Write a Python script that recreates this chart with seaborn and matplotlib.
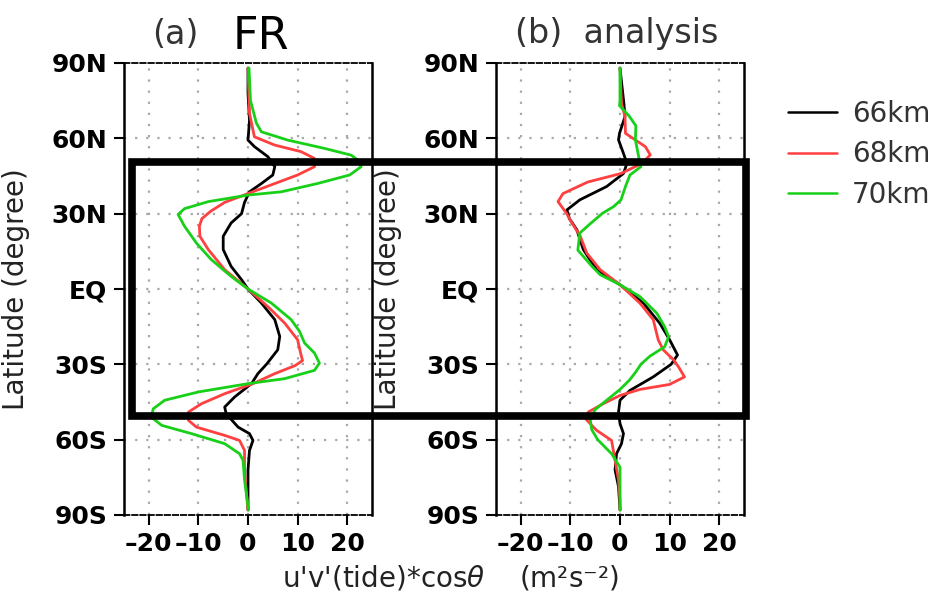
import numpy as np
import pandas as pd
import matplotlib
matplotlib.use("Agg")
import matplotlib.pyplot as plt
from matplotlib.lines import Line2D
from matplotlib.patches import Rectangle
import seaborn as sns

sns.set_theme(style="white")
plt.rcParams['font.family'] = ['DejaVu Sans']

# ---------------- data ----------------
levels = ["66km", "68km", "70km"]
line_colors = ["#000000", "#ff4040", "#18d018"]

x_ticks = [-20, -10, 0, 10, 20]
x_tick_labels = ["\u201320", "\u201310", "0", "10", "20"]
lat_ticks = [-90, -60, -30, 0, 30, 60, 90]
lat_labels = ["90S", "60S", "30S", "EQ", "30N", "60N", "90N"]

# (a) FR
a66_lat = [88, 78, 67, 59.3, 56.7, 52.7, 48.7, 45.4, 42, 38.7, 34.5, 30, 26.3, 21, 15.7, 9, 3.7, 0,
           -5.6, -12.2, -18.9, -24.2, -29.8, -33.7, -37.7, -43, -47, -49.7, -55, -57.6, -60.3, -64.3, -72, -88]
a66_val = [0, 0, 0.3, 0, 1.3, 4, 5.4, 5, 2.7, 0.3, -0.7, -1.3, -3.4, -5, -5, -3.4, -1.3, 0,
           2.7, 5.4, 6.4, 6, 3.8, 2, 0.7, -2.7, -4.7, -4.4, -2, 0.3, 1, 0.3, 0, 0]

a68_lat = [88, 70, 63.3, 60.6, 57.3, 54.7, 52, 48.7, 45.4, 42, 38, 34.5, 31, 28, 25, 21, 15.7, 7.7, 0,
           -7, -13.6, -20.2, -25.5, -28.5, -30.5, -33.7, -37.7, -41.7, -45.7, -49, -52.3, -55, -58.3,
           -60.3, -64.3, -72, -81.5, -88]
a68_val = [0, 0.3, 1, 1.3, 5.4, 10.7, 13.4, 13.4, 10, 5.4, 0, -4.7, -7.5, -9.3, -9.8, -9.7, -8, -4.7, 0,
           4, 7.4, 10, 10.6, 11, 9.5, 5.4, 1, -4.7, -9.4, -12, -12, -10.4, -4.7,
           -1.7, -0.7, -0.7, -0.3, 0]

a70_lat = [88, 75, 66, 62.6, 59.3, 56, 53.3, 50.7, 48.7, 45.4, 42, 38.7, 37.4, 34.8, 32, 29.7, 25, 18.3,
           11.7, 5, 0, -5.6, -12.2, -16.9, -21.5, -25.5, -29.5, -32.4, -35.7, -37.7, -41, -44.3, -47.7,
           -51, -54.3, -57.6, -61.6, -65.6, -68.2, -76, -88]
a70_val = [0.2, 0.5, 1.7, 2.7, 8, 15.4, 20.8, 22.6, 22.8, 20.5, 14, 6.7, 0, -8, -12.8, -14.1, -12.8, -10.4,
           -7.4, -3.4, 0, 4.7, 8.7, 10.4, 11.4, 13.4, 14.4, 13.4, 7.4, 0, -10, -16.8, -19.1,
           -19.5, -17.4, -11.4, -4.7, -1.7, -1, -0.7, 0.1]

# (b) analysis
b66_lat = [88, 73.6, 68.6, 62, 59.4, 54, 50, 46, 40.8, 35.5, 31.5, 28, 23.6, 15.7, 7.7, 1.7,
           -5.6, -13.6, -20.2, -26.3, -30, -35, -40.4, -44.3, -49, -53.6, -57.6, -61.6, -65.6, -72, -78.7, -88]
b66_val = [0, 0.8, 1, -0.1, -0.3, 0.7, 1.4, 0.7, -2.7, -8.1, -10.7, -10.2, -8.7, -7.4, -4.7, 0,
           4.7, 8, 10, 11.6, 10.3, 6.7, 2, 0, -0.3, 0, 0.7, 0.3, -0.7, -1, -0.3, 0]

b68_lat = [88, 74, 68.6, 62, 56.7, 53.4, 50, 46, 42.6, 38, 34.8, 30.2, 26.3, 21, 14.3, 7.7, 1.7,
           -5.6, -12.2, -20.2, -24.2, -28.2, -31, -35, -38, -40, -42.4, -45.7, -49, -52, -56.3,
           -60.3, -68.2, -76, -84, -88]
b68_val = [0, 0.3, 1, 1.1, 5.1, 6.1, 4.4, 0.2, -6.5, -11.5, -12.5, -10.8, -9.7, -8, -6.7, -4, 0,
           4, 6.7, 7.7, 8.7, 10.8, 11.8, 13, 10, 4, 0, -3.4, -6.4, -6.8, -4.7,
           -1.7, -1, -0.3, 0, 0]

b70_lat = [88, 75, 73, 69, 65, 59.4, 51.4, 48.7, 45.4, 40.8, 35.5, 32.8, 30.2, 26, 22.3, 15.5, 8.9,
           5.7, 1.7, -3, -9.6, -15, -19, -23, -26.8, -30, -33, -36.3, -40, -44, -48, -52, -56, -60,
           -65.6, -71, -88]
b70_val = [0, 0, -0.1, 1.8, 3.2, 3.1, 3.9, 4.2, 2, 1.1, 0.2, -1.3, -3.5, -6, -8.1, -8.5, -5.6,
           -4, 0, 4, 7.4, 9, 9.8, 9, 6, 4.2, 3.2, 1.9, 0, -2.5, -5, -6, -5.7, -4.5,
           -1.7, 0, 0]

rect_lat = 50.4
rect_x_left = -23.4   # in panel (a) data units
rect_x_right = 25.5   # in panel (b) data units


def make_df(series):
    frames = []
    for lev, (lat, val) in zip(levels, series):
        frames.append(pd.DataFrame({"lat": lat, "val": val, "level": lev}))
    return pd.concat(frames, ignore_index=True)


df_a = make_df([(a66_lat, a66_val), (a68_lat, a68_val), (a70_lat, a70_val)])
df_b = make_df([(b66_lat, b66_val), (b68_lat, b68_val), (b70_lat, b70_val)])

W, H = 937, 602
fig = plt.figure(figsize=(W / 100, H / 100), dpi=100)
axA = fig.add_axes([124 / W, 1 - 515 / H, 248 / W, 452 / H])
axB = fig.add_axes([496 / W, 1 - 515 / H, 248 / W, 452 / H])

palette = dict(zip(levels, line_colors))
for ax, df in [(axA, df_a), (axB, df_b)]:
    sns.lineplot(data=df, x="val", y="lat", hue="level", palette=palette, sort=False,
                 estimator=None, ax=ax, linewidth=2.0, legend=False)
    ax.set_xlim(-25, 25)
    ax.set_ylim(-90, 90)
    ax.set_xticks(x_ticks)
    ax.set_xticklabels(x_tick_labels, fontweight="bold")
    ax.set_yticks(lat_ticks)
    ax.set_yticklabels(lat_labels, fontweight="bold")
    ax.tick_params(axis="both", which="major", direction="out", length=7, width=1.5,
                   labelsize=18, pad=5, colors="black", left=True, bottom=True)
    ax.grid(True, color="#a8a8a8", linestyle=(0, (1, 4)), linewidth=1.6)
    for t in ax.yaxis.get_major_ticks():
        if abs(t.get_loc()) >= 90:
            t.gridline.set_visible(False)
    ax.set_axisbelow(True)
    for s in ["left", "right"]:
        ax.spines[s].set_color("black")
        ax.spines[s].set_linewidth(1.8)
    for s in ["top", "bottom"]:
        ax.spines[s].set_color("black")
        ax.spines[s].set_linewidth(1.3)
        ax.spines[s].set_linestyle((0, (3, 1.5)))
    ax.set_xlabel("")
    ax.set_ylabel("Latitude (degree)", fontsize=20, color="#222222")
    ax.yaxis.set_label_coords(-0.38, 0.5)

# titles
fig.text(152 / W, 1 - 34 / H, "(a)", fontsize=24, color="#333333", va="center", ha="left")
fig.text(233 / W, 1 - 49 / H, "FR", fontsize=32, color="black", va="baseline", ha="left")
fig.text(515 / W, 1 - 34 / H, "(b)  analysis", fontsize=24, color="#333333", va="center", ha="left")

# x label
fig.text(450 / W, 1 - 578 / H, "u'v'(tide)*cos$\\theta$    (m²s⁻²)", fontsize=20,
         color="#222222", ha="center", va="center")

# legend
handles = [Line2D([], [], color=c, lw=1.8) for c in line_colors]
fig.legend(handles, levels, loc="upper left", bbox_to_anchor=(788 / W, 1 - 100 / H),
           frameon=False, fontsize=20, handlelength=1.75, handletextpad=0.55,
           labelspacing=0.45, borderpad=0, borderaxespad=0, labelcolor="#333333")

# highlight box spanning both panels
fig.canvas.draw()
inv = fig.transFigure.inverted()
p1 = inv.transform(axA.transData.transform((rect_x_left, -rect_lat)))
p2 = inv.transform(axB.transData.transform((rect_x_right, rect_lat)))
rect = Rectangle(p1, p2[0] - p1[0], p2[1] - p1[1], transform=fig.transFigure,
                 fill=False, edgecolor="black", linewidth=5.5, zorder=20, clip_on=False)
fig.add_artist(rect)

fig.savefig("out.png", dpi=100)
